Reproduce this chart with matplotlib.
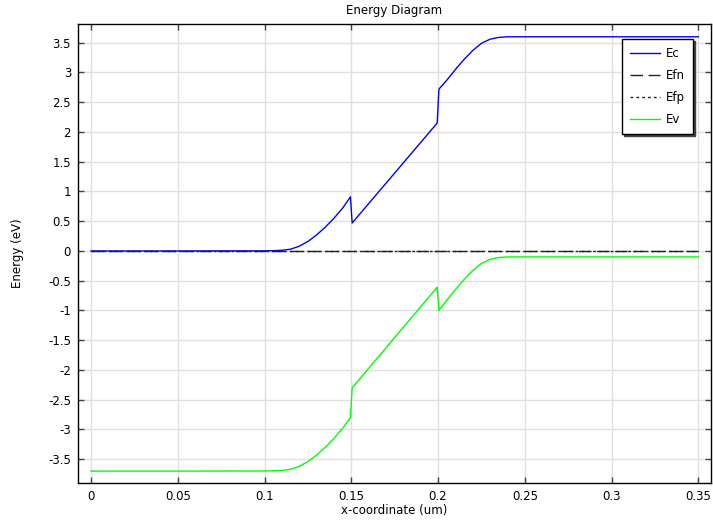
import matplotlib
matplotlib.use("Agg")
import matplotlib.pyplot as plt

plt.rcParams['font.family'] = ['DejaVu Sans']
plt.rcParams['axes.unicode_minus'] = False

# Conduction band edge Ec (eV)
x_ec = [0.0, 0.05, 0.1, 0.105, 0.11, 0.115, 0.12, 0.125, 0.13, 0.135, 0.14, 0.145, 0.1495,
        0.1505, 0.1995, 0.2005, 0.205, 0.21, 0.215, 0.22, 0.225, 0.23, 0.235, 0.24, 0.25, 0.3, 0.35]
ec = [0.0, 0.0, 0.002, 0.005, 0.012, 0.03, 0.08, 0.16, 0.27, 0.40, 0.55, 0.72, 0.91,
      0.47, 2.15, 2.72, 2.87, 3.05, 3.22, 3.37, 3.49, 3.56, 3.59, 3.60, 3.60, 3.60, 3.60]

# Valence band edge Ev (eV)
x_ev = [0.0, 0.05, 0.1, 0.105, 0.11, 0.115, 0.12, 0.125, 0.13, 0.135, 0.14, 0.145, 0.1495,
        0.1505, 0.1995, 0.2005, 0.205, 0.21, 0.215, 0.22, 0.225, 0.23, 0.235, 0.24, 0.25, 0.3, 0.35]
ev = [-3.70, -3.70, -3.698, -3.695, -3.688, -3.67, -3.62, -3.54, -3.43, -3.30, -3.15, -2.98, -2.80,
      -2.30, -0.61, -1.00, -0.83, -0.65, -0.48, -0.33, -0.21, -0.14, -0.11, -0.10, -0.10, -0.10, -0.10]

# Quasi-Fermi levels (eV)
x_ef = [0.0, 0.35]
efn = [0.0, 0.0]
efp = [0.0, 0.0]

xticks = [0, 0.05, 0.1, 0.15, 0.2, 0.25, 0.3, 0.35]
xticklabels = ["0", "0.05", "0.1", "0.15", "0.2", "0.25", "0.3", "0.35"]
yticks = [-3.5, -3, -2.5, -2, -1.5, -1, -0.5, 0, 0.5, 1, 1.5, 2, 2.5, 3, 3.5]
yticklabels = ["-3.5", "-3", "-2.5", "-2", "-1.5", "-1", "-0.5", "0", "0.5", "1", "1.5",
               "2", "2.5", "3", "3.5"]

fs = 8.5
fig = plt.figure(figsize=(7.13, 5.22), dpi=100)
ax = fig.add_axes([78/713, 1 - 483/522, (711 - 78)/713, (483 - 24)/522])

ax.plot(x_ec, ec, color='#0000ff', lw=1.0, label='Ec')
ax.plot(x_ef, efn, color='#222222', lw=1.0, dashes=(9, 4), label='Efn')
ax.plot(x_ef, efp, color='#222222', lw=1.0, dashes=(2, 2.2), label='Efp')
ax.plot(x_ev, ev, color='#00ff00', lw=1.0, label='Ev')

ax.set_xlim(-0.0075, 0.3573)
ax.set_ylim(-3.90, 3.815)
ax.set_xticks(xticks)
ax.set_xticklabels(xticklabels, fontsize=fs)
ax.set_yticks(yticks)
ax.set_yticklabels(yticklabels, fontsize=fs)
ax.tick_params(direction='in', length=4, width=1, color='#444444',
               top=True, right=True, pad=5)
ax.grid(True, color='#e0e0e0', lw=1)
ax.set_axisbelow(True)
for s in ax.spines.values():
    s.set_linewidth(1)
    s.set_color('black')

ax.set_title('Energy Diagram', fontsize=fs, pad=7)
ax.set_xlabel('x-coordinate (um)', fontsize=fs, labelpad=1)
ax.set_ylabel('Energy (eV)', fontsize=fs, labelpad=17)

leg = ax.legend(loc='upper right', bbox_to_anchor=(0.9716, 0.967), borderaxespad=0,
                fontsize=fs, fancybox=False, edgecolor='black', framealpha=1,
                shadow={'ox': 1.3, 'oy': -1.3, 'color': '#444444', 'alpha': 1},
                handlelength=2.6, handletextpad=0.5, labelspacing=0.78, borderpad=0.65)
leg.get_frame().set_linewidth(1)

fig.savefig('out.png', dpi=100)
